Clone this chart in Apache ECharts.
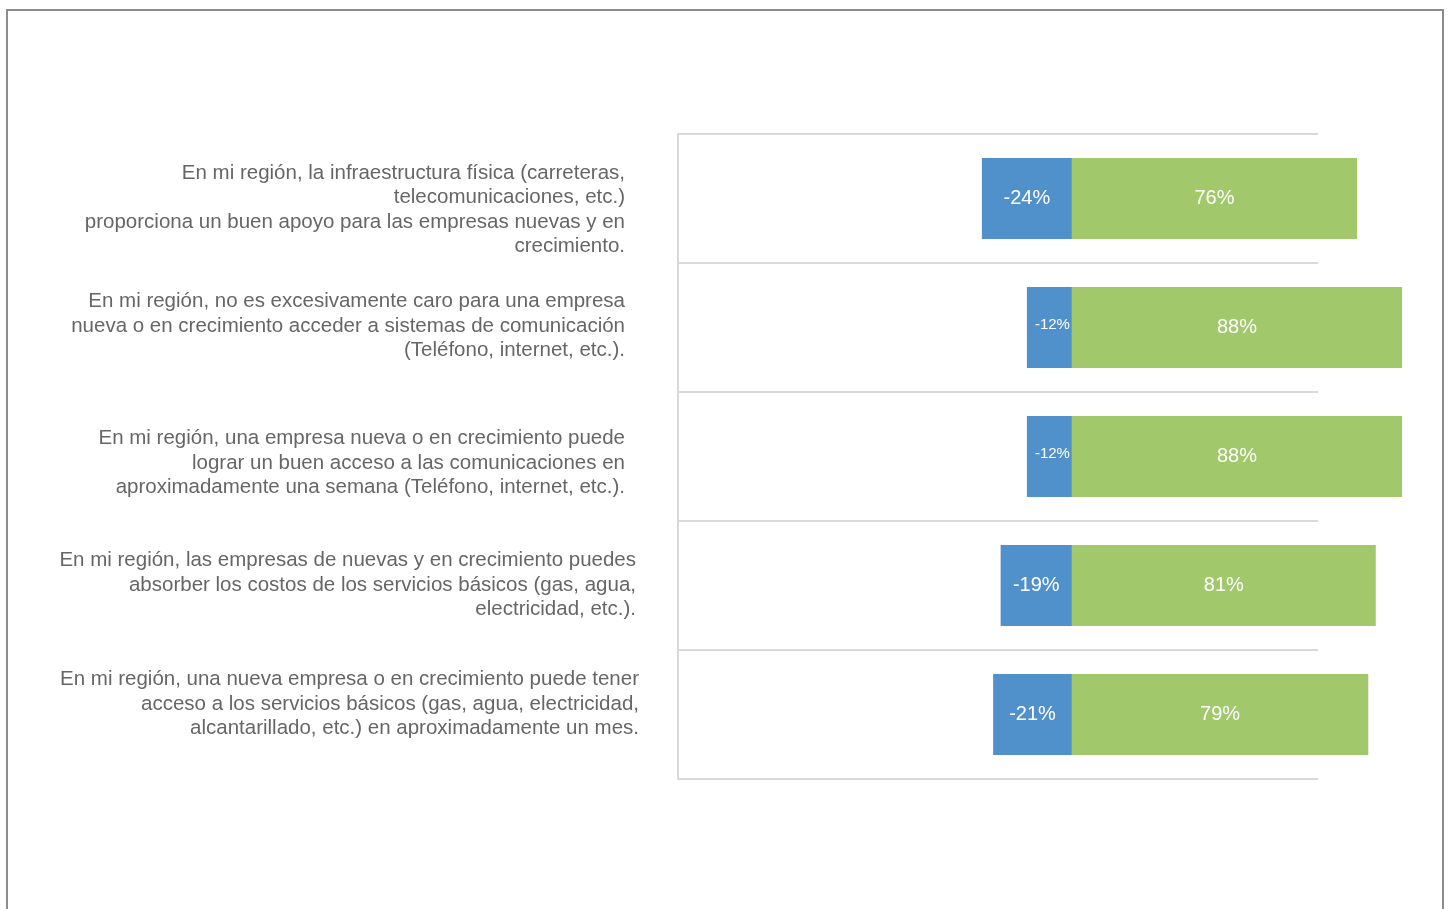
<!DOCTYPE html>
<html>
<head>
<meta charset="utf-8">
<style>
  html, body { margin: 0; padding: 0; background: #fff; }
  #chart { width: 1448px; height: 909px; }
</style>
<script src="https://cdn.jsdelivr.net/npm/echarts@6/dist/echarts.min.js"></script>
</head>
<body>
<div id="chart"></div>
<script>
// Survey statements (top to bottom)
const categories = [
  'En mi región, la infraestructura física (carreteras,\ntelecomunicaciones, etc.)\nproporciona un buen apoyo para las empresas nuevas y en\ncrecimiento.',
  'En mi región, no es excesivamente caro para una empresa\nnueva o en crecimiento acceder a sistemas de comunicación\n(Teléfono, internet, etc.).',
  'En mi región, una empresa nueva o en crecimiento puede\nlograr un buen acceso a las comunicaciones en\naproximadamente una semana (Teléfono, internet, etc.).',
  'En mi región, las empresas de nuevas y en crecimiento puedes\nabsorber los costos de los servicios básicos (gas, agua,\nelectricidad, etc.).',
  'En mi región, una nueva empresa o en crecimiento puede tener\nacceso a los servicios básicos (gas, agua, electricidad,\nalcantarillado, etc.) en aproximadamente un mes.'
];

// Share disagreeing (negative) and agreeing (positive), in percent
const disagree = [-24, -12, -12, -19, -21];
const agree = [76, 88, 88, 81, 79];

// Statement text placement relative to its row: [right edge x, vertical shift]
const labelPlacement = [
  [625, 11.5],
  [625, -1.5],
  [625, 6.5],
  [636, -0.5],
  [639, -10.5]
];

const BLUE = '#5191cb';
const GREEN = '#a1c96c';
const GRID = '#d9d9d9';
const TEXT = '#666666';
const FONT = '"Liberation Sans", Arial, sans-serif';

const chart = echarts.init(document.getElementById('chart'));

chart.setOption({
  backgroundColor: '#ffffff',
  animation: false,
  textStyle: { fontFamily: FONT },
  graphic: [{
    id: 'frame',
    type: 'rect',
    shape: { x: 7, y: 10, width: 1436, height: 920 },
    style: { fill: 'none', stroke: '#8c8c8c', lineWidth: 2 },
    silent: true,
    z: -1
  }],
  grid: {
    left: 678,
    top: 134,
    width: 640,
    height: 645,
    outerBoundsMode: 'none',
    containLabel: false
  },
  xAxis: {
    type: 'value',
    min: -105,
    max: 65.6,
    show: false,
    splitLine: { show: false }
  },
  yAxis: {
    type: 'category',
    inverse: true,
    data: categories,
    axisLine: { show: true, onZero: false, lineStyle: { color: GRID, width: 2 } },
    axisTick: { show: false },
    splitLine: { show: true, lineStyle: { color: GRID, width: 2 } },
    axisLabel: { show: false }
  },
  series: [
    {
      name: 'En desacuerdo',
      type: 'bar',
      stack: 'total',
      clip: false,
      barWidth: 81,
      itemStyle: { color: BLUE },
      data: disagree.map(v => ({
        value: v,
        label: Math.abs(v) < 15 ? { fontSize: 15, offset: [3, -3] } : {}
      })),
      label: {
        show: true,
        position: 'inside',
        color: '#ffffff',
        fontSize: 20,
        fontFamily: FONT,
        formatter: '{c}%'
      }
    },
    {
      name: 'De acuerdo',
      type: 'bar',
      stack: 'total',
      clip: false,
      barWidth: 81,
      itemStyle: { color: GREEN },
      data: agree,
      label: {
        show: true,
        position: 'inside',
        color: '#ffffff',
        fontSize: 20,
        fontFamily: FONT,
        formatter: '{c}%'
      }
    }
  ]
});

// Statement texts, anchored to each category row of the y axis
chart.setOption({
  graphic: categories.map((text, i) => {
    const rowY = chart.convertToPixel({ yAxisIndex: 0 }, i);
    return {
      id: 'stmt' + i,
      type: 'text',
      silent: true,
      style: {
        text: text,
        x: labelPlacement[i][0],
        y: rowY + labelPlacement[i][1],
        align: 'right',
        verticalAlign: 'middle',
        fontSize: 20.5,
        fontFamily: FONT,
        lineHeight: 24.5,
        fill: TEXT
      }
    };
  })
});
</script>
</body>
</html>
